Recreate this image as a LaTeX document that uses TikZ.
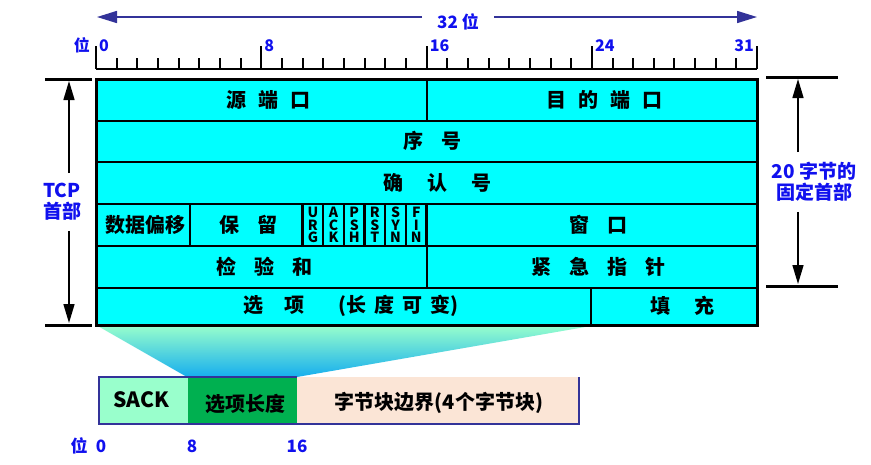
\documentclass[tikz,border=0pt]{standalone}
\usepackage{fontspec}
\setmainfont{Noto Sans CJK SC}
\usetikzlibrary{arrows.meta}
\definecolor{fieldcyan}{HTML}{00FFFF}
\definecolor{navyline}{HTML}{333399}
\definecolor{labelblue}{HTML}{1010EE}
\definecolor{mintfill}{HTML}{99FFCC}
\definecolor{optgreen}{HTML}{00B050}
\definecolor{peachfill}{HTML}{FBE5D6}
\definecolor{skyfill}{HTML}{16AEEE}
\newcommand\gp[1]{\hspace{#1pt}}

\begin{document}
\begin{tikzpicture}[x=1pt,y=-1pt,line join=miter,
  fld/.style={inner sep=0pt,font=\bfseries\fontsize{20}{22}\selectfont},
  flg/.style={inner sep=0pt,align=center,font=\bfseries\fontsize{14}{12.6}\selectfont},
  blu/.style={text=labelblue,inner sep=0pt,font=\bfseries\fontsize{16}{18}\selectfont},
  side/.style={text=labelblue,align=center,inner xsep=1pt,inner ysep=10pt,font=\bfseries\fontsize{19}{21}\selectfont},
  dimarr/.style={-{Triangle[length=19pt,width=11pt]},line width=1.5pt},
  toparr/.style={navyline,-{Triangle[length=20pt,width=12pt]},line width=1.6pt},
  bar/.style={line width=3pt}]
\useasboundingbox (0,0) rectangle (871,464);
\def\b{20.66}
% ruler
\draw[line width=2pt] (96,69) -- (96+32*\b,69);
\foreach \i in {0,...,32}{\draw[line width=2pt] (96+\i*\b,58) -- (96+\i*\b,69);}
\foreach \i in {0,8,...,32}{\draw[line width=2pt] (96+\i*\b,46) -- (96+\i*\b,69);}
\node[blu,anchor=base east] (bitw) at (90,51) {位};
\foreach \i in {0,8,16,24}{\node[blu,anchor=base west] (b\i) at (96+\i*\b+3,51) {\i};}
\node[blu,anchor=base east] (b31) at (96+32*\b-3,51) {31};
\coordinate (L) at (97,17);
\coordinate (R) at (757,17);
\node[blu,font=\bfseries\fontsize{17}{19}\selectfont,inner xsep=15pt] (t32) at (458,22) {32 位};
\draw[toparr] (t32.west |- L) -- (L);
\draw[toparr] (t32.east |- R) -- (R);
% zoom of the options field
\shade[top color=mintfill,bottom color=skyfill] (96,325) -- (591,326) -- (297,377) -- (187,377) -- cycle;
% header
\fill[fieldcyan] (96,79) rectangle (757,325);
\foreach \y in {120.7,162,204,246,288}{\draw[line width=2.3pt] (96,\y) -- (757,\y);}
\draw[line width=2.3pt] (427,79) -- (427,120.7) (427,246) -- (427,288) (591,288) -- (591,325) (190,204) -- (190,246);
\foreach \k in {0,...,6}{\draw[line width=2.3pt] (96+10*\b+\k*\b,204) -- (96+10*\b+\k*\b,246);}
\draw[line width=3pt] (96,79) rectangle (757,325);
\node[fld] (src) at (268,100) {源\gp{12}端\gp{12}口};
\node[fld] (dst) at (604,100) {目\gp{12}的\gp{12}端\gp{12}口};
\node[fld] (seq) at (432,141) {序\gp{18}号};
\node[fld] (ack) at (437,182.5) {确\gp{24}认\gp{24}号};
\node[fld] (off) at (145.5,225) {数据偏移};
\node[fld] (rsv) at (248,225) {保\gp{18}留};
\node[fld] (win) at (598.5,225) {窗\gp{18}口};
\node[fld] (chk) at (264.5,266.5) {检\gp{18}验\gp{18}和};
\node[fld] (urp) at (598,266.5) {紧\gp{18}急\gp{18}指\gp{18}针};
\node[fld] (opt) at (350.7,306) {选\gp{21}项\gp{34}(长\gp{8}度\gp{8}可\gp{8}变)};
\node[fld] (pad) at (682,306) {填\gp{24}充};
\foreach \f [count=\k] in {U\\R\\G,A\\C\\K,P\\S\\H,R\\S\\T,S\\Y\\N,F\\I\\N}{\node[flg] (f\k) at (96+9.5*\b+\k*\b,225) {\f};}
% header length marks
\draw[bar] (45,79) -- (92,79) (45,325) -- (92,325);
\node[side] (tcp) at (62,202) {TCP\\首部};
\coordinate (tcpt) at (69,81);
\coordinate (tcpb) at (69,323);
\draw[dimarr] (tcp.north -| tcpt) -- (tcpt);
\draw[dimarr] (tcp.south -| tcpb) -- (tcpb);
\draw[bar] (766,77) -- (838,77) (766,286) -- (838,286);
\node[side] (hdr) at (814,182) {20 字节的\\固定首部};
\coordinate (hdrt) at (798,79);
\coordinate (hdrb) at (798,284);
\draw[dimarr] (hdr.north -| hdrt) -- (hdrt);
\draw[dimarr] (hdr.south -| hdrb) -- (hdrb);
% SACK option
\fill[mintfill] (99,377) rectangle (188,424);
\fill[peachfill] (297,377) rectangle (579,424);
\fill[optgreen] (188,378) rectangle (297,424);
\draw[navyline,line width=2.7pt] (297,377) -- (99,377) -- (99,424) -- (579,424) -- (579,377);
\node[fld,font=\bfseries\fontsize{21}{23}\selectfont] (sack) at (141,399.5) {SACK};
\node[fld] (olen) at (245,404) {选项长度};
\node[fld] (blk) at (439,402.5) {字节块边界(4个字节块)};
\node[blu,font=\bfseries\fontsize{17}{19}\selectfont] (pw) at (79,446) {位};
\foreach \x/\t in {101/0,192/8,297/16}{\node[blu,font=\bfseries\fontsize{17}{19}\selectfont] (s\t) at (\x,446) {\t};}
\end{tikzpicture}
\end{document}
